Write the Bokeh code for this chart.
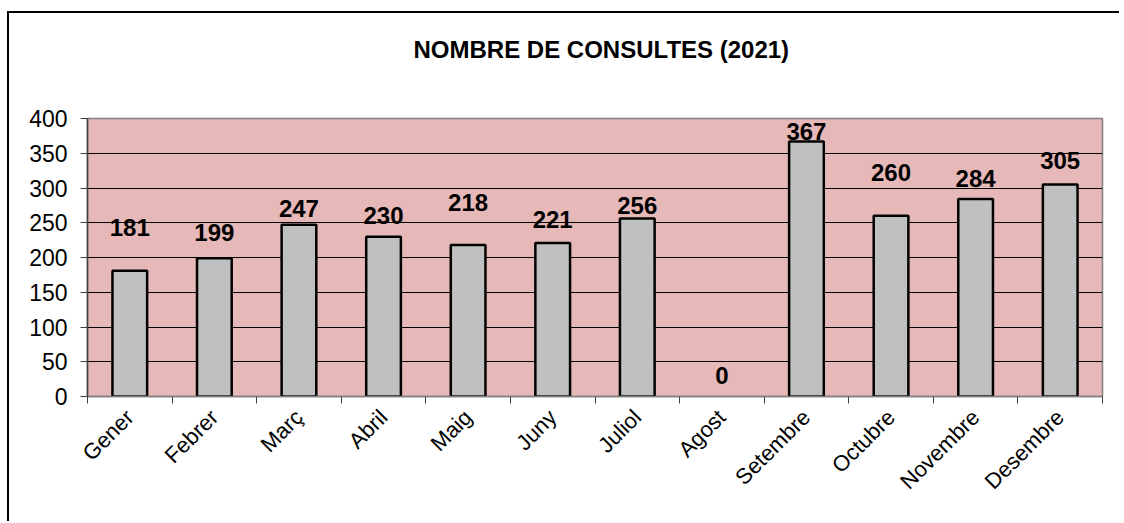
import math
from bokeh.plotting import figure
from bokeh.layouts import column
from bokeh.models import FixedTicker, ColumnDataSource, LabelSet, Title
from bokeh.embed import file_html
from bokeh.resources import INLINE
from bokeh.core.properties import value

# ---- data ----
months = ["Gener", "Febrer", "Març", "Abril", "Maig", "Juny", "Juliol",
          "Agost", "Setembre", "Octubre", "Novembre", "Desembre"]
consultes = [181, 199, 247, 230, 218, 221, 256, 0, 367, 260, 284, 305]
y_ticks = [0, 50, 100, 150, 200, 250, 300, 350, 400]
title_text = "NOMBRE DE CONSULTES  (2021)"

# placement of the value labels (centre height, in chart units), as in the original
label_y = [243, 236, 270, 260, 279, 255, 275, 30, 381, 322, 313, 340]

FONT = "Liberation Sans"

x_centres = [i + 0.5 for i in range(len(months))]
src = ColumnDataSource(dict(x=x_centres, v=consultes, ly=label_y,
                            t=[str(c) for c in consultes],
                            lc=["black" if c > 0 else None for c in consultes]))

p = figure(width=1110, height=508, output_backend="svg", toolbar_location=None,
           x_range=(0, len(months)), y_range=(0, 400),
           min_border_left=78, min_border_top=105, min_border_right=17,
           min_border_bottom=125)
p.stylesheets = [".bk-Toolbar, .bk-toolbar { display: none !important; }"]

p.background_fill_color = "#E6B8B7"
p.border_fill_color = "white"
p.outline_line_color = "#808080"
p.outline_line_width = 1.5

p.vbar(x="x", top="v", bottom=0, width=0.41, source=src,
       fill_color="#C0C0C0", line_color="lc", line_width=2.5)

labels = LabelSet(x="x", y="ly", text="t", source=src, text_align="center",
                  text_baseline="middle", text_font=value(FONT),
                  text_font_size="24px", text_font_style="bold",
                  text_color="black")
p.add_layout(labels)

# spacer between title and plot area
p.add_layout(Title(text=" ", text_font_size="10px", standoff=38), "above")

# title
p.title.text = title_text
p.title.align = "left"
p.title.text_font = FONT
p.title.text_font_size = "24px"
p.title.text_font_style = "bold"
p.title.text_color = "black"
p.title.standoff = 10
p.title.offset = 326

# grid
p.xgrid.visible = False
p.ygrid.ticker = FixedTicker(ticks=y_ticks[1:-1])
p.ygrid.grid_line_color = "black"
p.ygrid.grid_line_width = 1

# y axis
p.yaxis.ticker = FixedTicker(ticks=y_ticks)
p.yaxis.axis_line_color = "#404040"
p.yaxis.axis_line_width = 1.5
p.yaxis.major_tick_in = 0
p.yaxis.major_tick_out = 7
p.yaxis.major_tick_line_color = "#404040"
p.yaxis.minor_tick_line_color = None
p.yaxis.major_label_text_font = FONT
p.yaxis.major_label_text_font_size = "23px"
p.yaxis.major_label_text_color = "black"
p.yaxis.major_label_standoff = 13

# x axis
p.xaxis.ticker = FixedTicker(ticks=x_centres, minor_ticks=list(range(len(months) + 1)))
p.xaxis.major_label_overrides = {x: m for x, m in zip(x_centres, months)}
p.xaxis.axis_line_color = "#808080"
p.xaxis.axis_line_width = 1.5
p.xaxis.major_tick_line_color = None
p.xaxis.minor_tick_in = 0
p.xaxis.minor_tick_out = 7
p.xaxis.minor_tick_line_color = "#404040"
p.xaxis.major_label_orientation = math.pi / 4
p.xaxis.major_label_text_font = FONT
p.xaxis.major_label_text_font_size = "22px"
p.xaxis.major_label_text_color = "black"
p.xaxis.major_label_standoff = 10

# outer chart-area frame (its left and top edges are visible)
page = column(p, styles={"border-left": "2px solid #000000",
                         "border-top": "2px solid #000000",
                         "margin-top": "11px", "margin-left": "7px",
                         "box-sizing": "content-box"})

open("out.html", "w").write(file_html(page, INLINE))
